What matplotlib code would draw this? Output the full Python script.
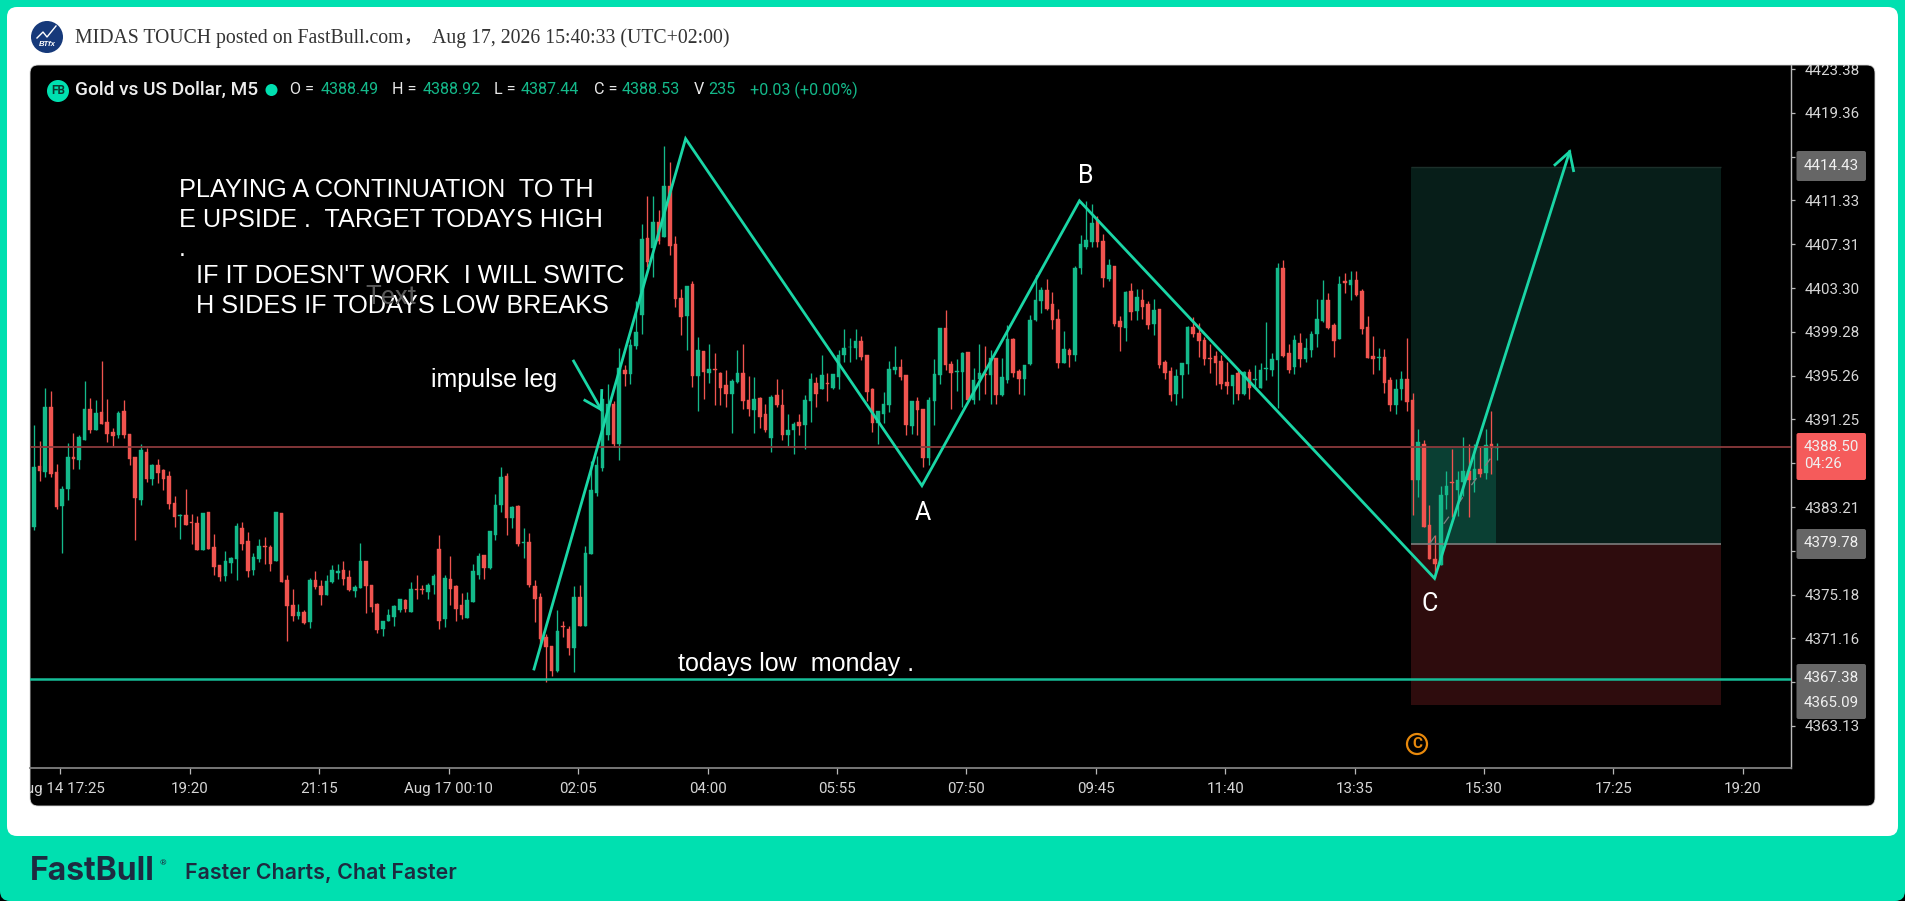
import numpy as np
import matplotlib
matplotlib.use("Agg")
import matplotlib.pyplot as plt
from matplotlib.patches import FancyBboxPatch, Rectangle, Circle
from matplotlib.transforms import Bbox, IdentityTransform, TransformedBbox

# ---------- values (price minus 4000) ----------
highs = [390.7,389.3,394.1,393.9,387.2,385.1,389.1,390.0,389.8,394.8,
393.2,393.0,396.6,393.1,390.5,392.0,393.0,389.9,387.8,389.0,
388.6,387.2,387.6,386.7,386.5,384.2,382.6,384.9,382.6,382.4,
382.7,382.8,380.7,377.9,379.2,378.6,381.7,381.8,380.9,379.0,
380.3,380.5,379.7,382.8,
382.7,377.0,375.7,374.3,373.8,376.7,377.3,376.5,377.0,377.9,
378.0,378.3,377.4,376.1,379.9,378.3,376.1,374.4,372.8,373.9,
374.2,374.8,374.8,376.3,377.0,376.1,376.2,377.1,380.6,377.0,
378.7,376.1,375.3,375.4,378.0,379.0,378.8,381.0,384.4,386.9,
386.3,383.3,383.4,381.3,
380.8,376.5,375.3,371.6,370.5,373.8,372.8,372.3,376.0,376.1,
379.6,387.4,387.9,393.1,394.5,392.9,397.8,396.2,398.6,402.1,
409.2,411.7,411.7,410.5,416.3,414.9,408.1,403.2,403.5,403.9,
398.8,397.5,398.2,397.3,395.6,395.8,395.0,397.6,398.2,395.2,
395.1,393.3,392.7,
393.5,395.0,394.0,391.7,391.0,391.7,393.5,395.5,395.1,397.2,
395.5,395.4,397.6,399.5,398.7,399.5,398.9,397.2,394.1,392.0,
393.8,396.6,398.0,396.8,395.3,392.9,393.3,392.2,393.3,396.8,
399.6,401.3,396.6,396.8,397.4,397.4,396.0,398.2,398.0,397.6,
396.9,396.9,399.9,398.7,
395.9,396.2,400.8,404.5,403.4,404.1,402.9,401.4,399.4,397.8,
405.3,408.2,411.3,411.0,409.9,408.3,406.0,405.3,400.7,403.0,
403.8,403.2,403.2,402.1,402.3,401.4,396.7,396.1,395.9,396.4,
399.8,400.6,400.1,398.8,398.2,397.5,397.2,396.5,395.3,395.8,
395.7,395.9,396.2,
396.4,400.2,397.3,405.6,405.9,398.2,399.0,399.2,398.7,399.4,
402.3,404.0,402.8,400.1,404.4,404.7,404.9,404.9,403.2,400.7,
398.9,397.8,397.7,395.1,395.0,395.7,398.7,393.7,390.4,389.4,
383.4,380.6,385.1,386.5,388.5,386.5,389.6,389.0,389.0,388.7,
390.4,392.0,389.1]

body_tops = [386.9,387.0,392.4,392.4,386.4,384.9,387.8,387.8,389.6,392.2,
392.2,391.8,391.9,391.0,390.1,391.8,392.0,389.9,387.8,388.4,
388.3,387.1,387.1,386.6,386.1,383.6,382.5,382.5,381.8,381.7,
382.7,382.8,379.5,377.9,378.3,378.5,381.5,381.3,380.1,378.6,
379.6,379.6,379.5,382.8,
382.7,376.5,374.2,373.6,373.6,376.5,376.5,376.0,376.4,377.4,
377.3,377.4,376.8,375.9,378.3,378.3,376.1,374.3,372.8,373.3,
374.1,374.8,374.7,375.7,375.7,375.7,376.1,376.9,379.4,376.7,
376.6,376.0,374.2,374.7,377.3,378.7,378.8,381.0,383.4,386.0,
386.1,383.2,383.3,380.0,
380.0,376.0,375.0,371.3,370.5,371.8,372.3,372.0,375.0,375.0,
379.0,384.8,387.1,393.1,392.7,392.7,396.0,395.8,398.1,399.3,
407.8,407.9,409.4,409.4,412.7,412.7,407.3,402.4,403.5,403.7,
397.6,397.5,395.9,395.9,395.5,394.4,394.8,395.5,395.5,393.0,
393.1,393.2,391.7,
393.3,393.5,392.6,390.3,390.8,391.0,393.0,395.0,394.6,395.3,
394.6,395.4,397.2,397.8,397.9,398.4,398.4,397.2,394.0,392.0,
392.7,395.9,396.1,396.1,395.3,392.9,392.9,392.2,393.0,395.4,
399.6,399.6,396.3,395.7,397.3,397.4,394.9,395.5,395.4,396.9,
396.9,395.1,398.6,398.6,
395.7,396.2,400.4,402.2,403.1,403.1,401.8,400.5,397.7,397.6,
405.1,407.3,407.7,409.3,409.5,407.6,405.4,405.3,400.3,402.9,
403.0,402.5,402.2,401.8,401.3,401.4,396.5,395.7,395.2,396.4,
399.7,399.7,399.2,398.5,396.9,397.1,396.6,394.7,395.3,395.5,
395.6,395.6,395.0,
395.8,396.0,396.8,405.1,405.1,397.3,398.5,398.3,397.8,399.1,
400.5,402.2,402.2,399.9,403.7,403.9,404.0,404.0,403.0,399.7,
397.1,397.0,397.0,394.9,394.0,395.0,395.0,393.0,389.2,389.0,
381.6,378.4,384.3,385.1,385.5,385.7,386.5,386.5,386.7,386.7,
388.9,389.0,388.7]

body_bottoms = [381.4,386.5,386.4,386.2,383.2,383.3,384.9,387.6,387.5,389.4,
390.3,390.3,390.8,389.9,389.7,389.8,389.8,387.6,384.0,383.9,
385.8,385.8,386.3,385.8,383.5,382.3,382.4,381.6,381.7,379.3,
379.3,379.4,377.7,376.8,376.9,378.1,378.4,379.8,377.3,377.4,
378.4,379.5,378.0,378.3,
376.3,374.1,373.2,373.2,372.6,372.7,375.9,375.1,375.1,376.3,
377.2,376.6,375.6,375.5,375.8,376.0,374.0,371.9,372.0,372.8,
373.1,373.8,373.9,373.6,375.6,375.6,375.4,376.1,372.8,372.9,
375.7,373.9,373.3,373.0,374.5,377.0,377.6,377.6,380.6,383.4,
382.2,382.2,379.8,379.9,
376.1,374.8,371.1,370.4,368.2,368.2,372.2,370.3,370.3,372.3,
372.3,378.9,384.5,386.8,389.8,389.0,389.0,395.4,395.4,398.0,
400.8,405.7,407.0,407.6,408.0,407.2,402.3,400.6,400.7,395.2,
395.2,395.6,395.5,395.8,394.1,393.6,393.6,394.7,392.9,392.2,
392.1,391.5,390.3,
389.5,392.6,389.8,389.8,390.3,390.6,390.7,392.9,393.6,394.0,
394.5,394.1,395.1,397.2,397.9,397.8,397.0,393.8,390.9,390.9,
391.7,392.6,395.8,395.1,390.7,390.6,392.1,387.7,387.7,392.9,
395.3,396.2,395.5,395.6,395.6,393.0,393.0,395.0,395.3,395.3,
393.5,393.5,394.9,395.5,
395.0,395.0,396.3,400.4,402.1,401.4,400.4,396.4,396.4,397.2,
397.2,405.1,407.1,407.5,407.5,404.2,404.1,400.0,399.7,399.6,
401.1,401.2,401.6,399.9,400.0,396.2,395.5,393.5,393.6,395.3,
396.3,399.1,398.4,396.8,396.8,396.4,394.5,394.3,394.3,393.6,
393.6,394.1,394.9,
394.1,395.9,395.8,396.7,397.1,395.8,396.1,396.8,396.8,397.6,
399.1,400.3,399.6,398.4,398.6,403.8,403.6,402.7,399.5,396.9,
396.8,396.9,394.6,392.6,392.6,394.0,392.8,385.7,385.7,381.4,
378.4,378.0,377.9,384.3,385.4,384.8,385.5,385.7,385.7,386.2,
386.3,388.6,388.6]

lows = [381.1,385.6,386.0,386.0,383.0,379.0,383.9,386.7,386.7,389.4,
390.0,390.3,390.8,389.2,388.8,389.5,389.5,387.1,380.2,383.4,
385.5,385.2,385.4,384.8,383.0,381.4,380.3,381.6,379.8,379.3,
379.3,379.4,377.0,376.4,376.4,377.2,376.5,379.3,376.8,377.0,
378.2,378.0,377.3,378.3,
376.3,370.9,372.8,372.9,372.5,372.1,375.7,374.2,375.1,376.2,
376.6,376.1,375.5,375.0,375.8,373.5,373.6,371.7,371.4,372.8,
372.3,373.6,373.6,373.6,374.8,375.2,374.8,375.2,372.0,372.2,
374.2,372.8,372.9,373.0,374.5,376.6,376.6,377.5,380.2,382.8,
380.6,381.3,379.6,378.5,
375.9,372.7,370.3,367.2,367.7,368.1,371.3,369.6,368.1,372.3,
372.3,378.9,384.2,386.5,389.4,388.7,387.5,394.3,394.5,397.7,
399.1,405.2,404.3,407.3,408.0,406.3,401.6,399.0,397.6,394.2,
392.0,393.1,394.6,392.6,392.6,392.4,390.0,394.6,392.2,391.6,
390.0,390.5,390.1,
388.3,392.4,389.4,388.8,388.1,389.8,388.5,391.0,392.4,394.0,
392.9,394.0,394.0,396.5,396.5,396.8,396.7,392.9,390.1,389.0,
390.9,391.9,395.4,394.9,389.8,389.9,389.8,386.9,387.1,390.7,
394.5,395.8,392.2,393.9,392.4,392.9,392.7,393.0,393.6,392.7,
392.7,393.4,394.6,395.1,
393.6,393.5,396.2,400.3,401.0,401.3,399.5,396.0,396.4,396.1,
396.6,404.6,406.9,407.1,407.1,403.4,403.9,399.8,397.5,398.4,
400.4,400.4,400.5,399.5,399.0,396.0,395.0,392.9,392.6,393.2,
395.4,398.8,397.0,396.2,395.5,394.4,394.0,393.6,392.7,393.0,
393.5,393.1,394.2,
394.1,394.9,395.2,392.3,397.0,395.5,395.4,396.1,396.5,397.0,
397.9,400.2,399.5,397.0,398.6,402.8,402.2,402.6,399.1,396.9,
395.4,395.8,393.7,392.0,391.7,393.0,392.0,382.5,384.1,381.4,
378.4,376.7,377.9,383.0,382.3,382.4,384.2,382.3,384.6,386.0,
385.8,386.2,387.5]

bar_colors = ("GRGRRGGRGGRGRRRGRRRGRGRRRRGRRRGRRRGGGRRGGRRG"
              "RRRGRGRRGGGRRGGRRRGGGGRGRRGGRGRRRGGGRGGGRGRG"
              "RRRRRGRRGRGGGGGRGRGGGRGRGRRRGRGRGRRRGGRRGRR"
              "GRRGGRGGRGRGGGGGRRRGGGGRRGRRGGGRRGGRGGRGRGGR"
              "RGGGGRRRGRGGGGRRGRRGRGRRGRRRGGGRRRRRRRGRGRG"
              "GGGGRRGRGGGGRRGRGRRRRGRRGGRRGRRRGGRGGRGRGRG")

y_ticks = [4423.38,4419.36,4415.35,4411.33,4407.31,4403.30,4399.28,4395.26,
           4391.25,4387.23,4383.21,4379.20,4375.18,4371.16,4367.15,4363.13]
y_hidden = {4415.35,4387.23,4379.20,4367.15}
x_ticks = [4.7,27.7,50.7,73.7,96.7,119.7,142.7,165.7,188.7,211.7,234.7,257.7,280.7,303.7]
x_labels = ["Aug 14 17:25","19:20","21:15","Aug 17 00:10","02:05","04:00","05:55",
            "07:50","09:45","11:40","13:35","15:30","17:25","19:20"]

last_price_line = 4388.72
today_low = 4367.45
target = 4414.43
entry = 4379.78
stop = 4365.09
pos_start, pos_end = 244.8, 299.8
pos_live_end = 259.8

zigzag_bars = [88.86,115.8,157.8,185.8,248.9,272.9]
zigzag_prices = [4368.35,4417.0,4385.17,4411.3,4376.67,4415.8]
head_bars = [270.3,272.9,273.6]
head_prices = [4414.6,4415.8,4414.07]
impulse_bars = [95.9,100.8]
impulse_prices = [4396.6,4392.15]
impulse_head_bars = [97.9,100.8,100.9]
impulse_head_prices = [4393.0,4392.15,4393.9]
dash_bars = [248.1,260.0]
dash_prices = [4379.9,4388.5]

TEAL = "#00E0B0"
LINE = "#1AD6A6"
UP = "#14B98A"
DOWN = "#F0544F"
AXT = "#D6D6D6"

fig = plt.figure(figsize=(19.05, 9.01), dpi=100, facecolor=TEAL)

# page furniture in pixel coordinates
bg = fig.add_axes([0, 0, 1, 1], zorder=0)
bg.set_xlim(0, 1905); bg.set_ylim(901, 0); bg.axis("off")
bg.add_patch(Rectangle((0, 880), 1905, 21, fc="black", ec="none"))
bg.add_patch(FancyBboxPatch((0, -30), 1905, 931, boxstyle="round,pad=0,rounding_size=10",
                            fc=TEAL, ec="none"))
bg.add_patch(FancyBboxPatch((7, 7), 1891, 829, boxstyle="round,pad=0,rounding_size=10",
                            fc="white", ec="none"))
bg.add_patch(FancyBboxPatch((30, 65), 1845, 741, boxstyle="round,pad=0,rounding_size=8",
                            fc="black", ec="#D8D8D8", lw=0.6))

# chart
ax = fig.add_axes([30/1905, (901-768)/901, 1761/1905, 703/901], zorder=1)
ax.patch.set_visible(False)
ax.set_xlim(-0.711, 312.25)
ax.set_ylim(4359.27, 4423.76)

h = 4000 + np.array(highs)
t = 4000 + np.array(body_tops)
b = 4000 + np.array(body_bottoms)
l = 4000 + np.array(lows)
xs = np.arange(len(h))
cols = [UP if c == "G" else DOWN for c in bar_colors]

# position tool
ax.add_patch(Rectangle((pos_start, entry), pos_end-pos_start, target-entry, fc="#071E19", ec="none", zorder=1))
ax.add_patch(Rectangle((pos_start, stop), pos_end-pos_start, entry-stop, fc="#2E0C0D", ec="none", zorder=1))
ax.add_patch(Rectangle((pos_start, entry), pos_live_end-pos_start, last_price_line-entry, fc="#0A3F33", ec="none", zorder=1.1))
ax.hlines(target, pos_start, pos_end, color="#1C2F2A", lw=1.0, zorder=1.2)
ax.hlines(entry, pos_start, pos_end, color="#7C7C7C", lw=1.2, zorder=3.5)

ax.vlines(xs, l, h, colors=cols, lw=0.95, zorder=2)
ax.bar(xs, t-b, bottom=b, width=0.64, color=cols, edgecolor=cols, linewidth=0.3, zorder=2.1)

ax.axhline(last_price_line, color="#8B3A3C", lw=1.3, zorder=3)
ax.axhline(today_low, color="#16BE98", lw=1.8, zorder=3)
ax.plot(dash_bars, dash_prices, color="#808080", lw=0.9, dashes=(7, 12), zorder=3.2)
ax.plot(zigzag_bars, zigzag_prices, color=LINE, lw=2.0, zorder=4, solid_joinstyle="miter")
ax.plot(head_bars, head_prices, color=LINE, lw=2.0, zorder=4, solid_joinstyle="miter")
ax.plot(impulse_bars, impulse_prices, color=LINE, lw=2.0, zorder=4)
ax.plot(impulse_head_bars, impulse_head_prices, color=LINE, lw=2.0, zorder=4, solid_joinstyle="miter")

for s in ("top", "left"):
    ax.spines[s].set_visible(False)
ax.spines["right"].set_color("#B8B8B8"); ax.spines["right"].set_linewidth(1.0)
ax.spines["bottom"].set_color("#808080"); ax.spines["bottom"].set_linewidth(1.3)
ax.yaxis.tick_right()
ax.set_yticks(y_ticks)
ax.set_yticklabels(["" if v in y_hidden else f"{v:.2f}" for v in y_ticks])
ax.set_xticks(x_ticks)
ax.set_xticklabels(x_labels)
ax.tick_params(axis="y", length=3, width=0.9, color="#B8B8B8", labelcolor=AXT, labelsize=10.9, pad=6.5)
ax.tick_params(axis="x", length=4.3, width=0.9, color="#B8B8B8", labelcolor=AXT, labelsize=10.9, pad=5.5)
clip = TransformedBbox(Bbox([[30, 95], [1875, 901-65]]), IdentityTransform())
for lbl in ax.get_xticklabels() + ax.get_yticklabels():
    lbl.set_fontfamily("Roboto")
    lbl.set_clip_box(clip)
    lbl.set_clip_on(True)

# overlay in pixel coordinates
ov = fig.add_axes([0, 0, 1, 1], zorder=2)
ov.set_xlim(0, 1905); ov.set_ylim(901, 0); ov.axis("off")

def txt(x, y, s, size, color="white", family="Liberation Sans", ha="left", weight="normal", style="normal"):
    return ov.text(x, y, s, fontsize=size, color=color, family=family, ha=ha, va="center",
                   fontweight=weight, fontstyle=style)

# header
ov.add_patch(Circle((47, 37), 16, fc="#16397A", ec="none"))
ov.plot([37, 43, 47, 56], [38, 32, 37, 26], color="white", lw=1.0)
txt(47, 45, "BTfx", 5.5, ha="center", weight="bold", style="italic")
txt(75, 38, "MIDAS TOUCH posted on FastBull.com\uff0c  Aug 17, 2026 15:40:33 (UTC+02:00)", 14.26,
    color="#333333", family=["Liberation Serif", "Noto Sans CJK SC"])

# legend line
ov.add_patch(Circle((58, 91), 11, fc=TEAL, ec="none"))
txt(58, 91, "FB", 8.5, color="#0B3B30", family="Roboto", ha="center", weight="bold")
txt(75, 90, "Gold vs US Dollar, M5", 13.7, family="Roboto", color="#EDEDED", weight="medium")
ov.add_patch(Circle((271.5, 90), 6, fc=TEAL, ec="none"))
LV = "#14B98A"
for x, s, c in [(290, "O =", "#E8E8E8"), (321, "4388.49", LV), (392, "H =", "#E8E8E8"), (423, "4388.92", LV),
                (494, "L =", "#E8E8E8"), (521, "4387.44", LV), (594, "C =", "#E8E8E8"), (622, "4388.53", LV),
                (694, "V", "#E8E8E8"), (708, "235", LV), (750, "+0.03 (+0.00%)", LV)]:
    txt(x, 90, s, 11.6, color=c, family="Roboto")

# notes
NOTE = 18.2
txt(179, 190, "PLAYING A CONTINUATION  TO TH", NOTE)
txt(179, 220, "E UPSIDE .  TARGET TODAYS HIGH", NOTE)
txt(179, 249, ".", NOTE)
txt(195.5, 276, "IF IT DOESN'T WORK  I WILL SWITC", NOTE)
txt(195.5, 306, "H SIDES IF TODAYS LOW BREAKS", NOTE)
txt(365, 297, "Text", 19, color="#5A5A5A", family="Roboto")
txt(431, 380, "impulse leg", 18)
txt(678, 664, "todays low  monday .", 18.1)
txt(923, 513, "A", 18, family="Roboto", ha="center")
txt(1086, 176, "B", 18, family="Roboto", ha="center")
txt(1430, 604, "C", 18, family="Roboto", ha="center")

# copyright mark
ov.add_patch(Circle((1417, 744), 10, fc="none", ec="#E8890C", lw=1.6))
txt(1417, 744, "C", 11, color="#E8890C", family="Roboto", ha="center", weight="bold")

# price labels
for y0, y1, col in [(151, 181, "#666666"), (529, 559, "#666666"), (664, 719, "#666666"), (433, 480, "#F55B5B")]:
    ov.add_patch(FancyBboxPatch((1796.5, y0), 69.5, y1-y0, boxstyle="round,pad=0,rounding_size=2", fc=col, ec="none"))
for y, s in [(166, "4414.43"), (543, "4379.78"), (678, "4367.38"), (703, "4365.09"), (447, "4388.50"), (464, "04:26")]:
    txt(1804, y, s, 10.9, color="#F0F0F0", family="Roboto")

# footer
txt(30, 872, "FastBull", 23, color="#1E2A40", family="Inter", weight="bold")
txt(160, 863, "\u00ae", 6, color="#1E2A40", family="Roboto")
txt(185, 873, "Faster Charts, Chat Faster", 15.4, color="#1E2A40", family="Inter", weight="semibold")

fig.savefig("out.png", dpi=100, facecolor=TEAL)
